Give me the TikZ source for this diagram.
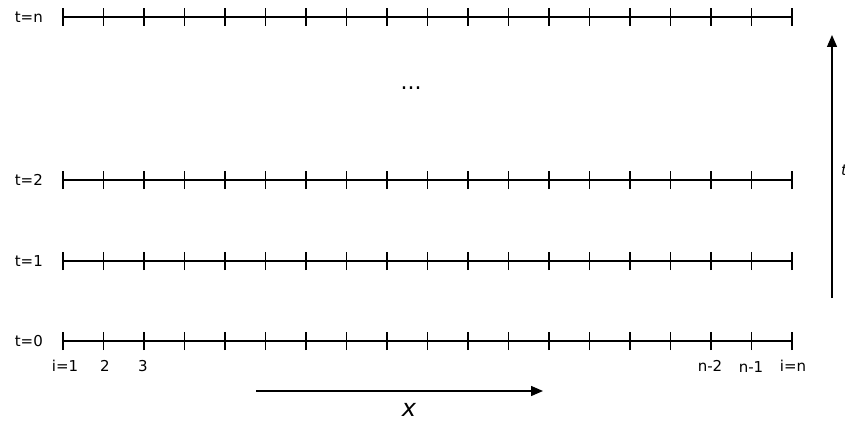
\documentclass[tikz,border=0pt]{standalone}
\usepackage{fontspec}
\setmainfont{DejaVu Sans}
\usetikzlibrary{arrows.meta,calc}

\begin{document}
\begin{tikzpicture}[
  x=1pt, y=-1pt,
  lbl/.style={font=\fontsize{15}{17}\selectfont, inner sep=0pt},
  gridline/.style={line width=1.4pt, black},
  tickmark/.style={line width=1.4pt, black},
  axis/.style={-{Triangle[length=12pt,width=10pt]}, line width=1.4pt},
]
  \useasboundingbox (0,0) rectangle (845,422);

  % one row of grid points for each time level
  \foreach \yy/\tt in {17/n, 180/2, 261/1, 341/0}{
    \coordinate (row\tt-a) at (63,\yy);
    \coordinate (row\tt-b) at (792,\yy);
    \draw[gridline] (row\tt-a) -- (row\tt-b);
    \foreach \k in {0,...,18}
      \draw[tickmark] ([yshift=-9pt]$(row\tt-a)!\k/18!(row\tt-b)$) -- ++(0,18pt);
    \node[lbl, anchor=east] (time\tt) at (43,\yy) {t=\tt};
  }

  \node[lbl, font=\fontsize{22}{24}\selectfont] (dots) at (411,88) {...};

  % space indices under the bottom row
  \node[lbl] (idx1) at (65,366) {i=1};
  \node[lbl] (idx2) at (105,366) {2};
  \node[lbl] (idx3) at (143,366) {3};
  \node[lbl] (idxn2) at (710,366) {n-2};
  \node[lbl] (idxn1) at (751,367) {n-1};
  \node[lbl] (idxn) at (793,366) {i=n};

  % direction arrows
  \coordinate (xa) at (256,391);
  \coordinate (xb) at (543,391);
  \draw[axis] (xa) -- (xb);
  \node[font=\fontsize{24}{26}\selectfont\itshape, inner sep=0pt] (xlab) at (409,410) {x};

  \coordinate (ta) at (832,298);
  \coordinate (tb) at (832,35);
  \draw[axis] (ta) -- (tb);
  \node[font=\fontsize{15}{17}\selectfont\itshape, inner sep=0pt, anchor=west] (tlab) at (841,170) {t};
\end{tikzpicture}
\end{document}
